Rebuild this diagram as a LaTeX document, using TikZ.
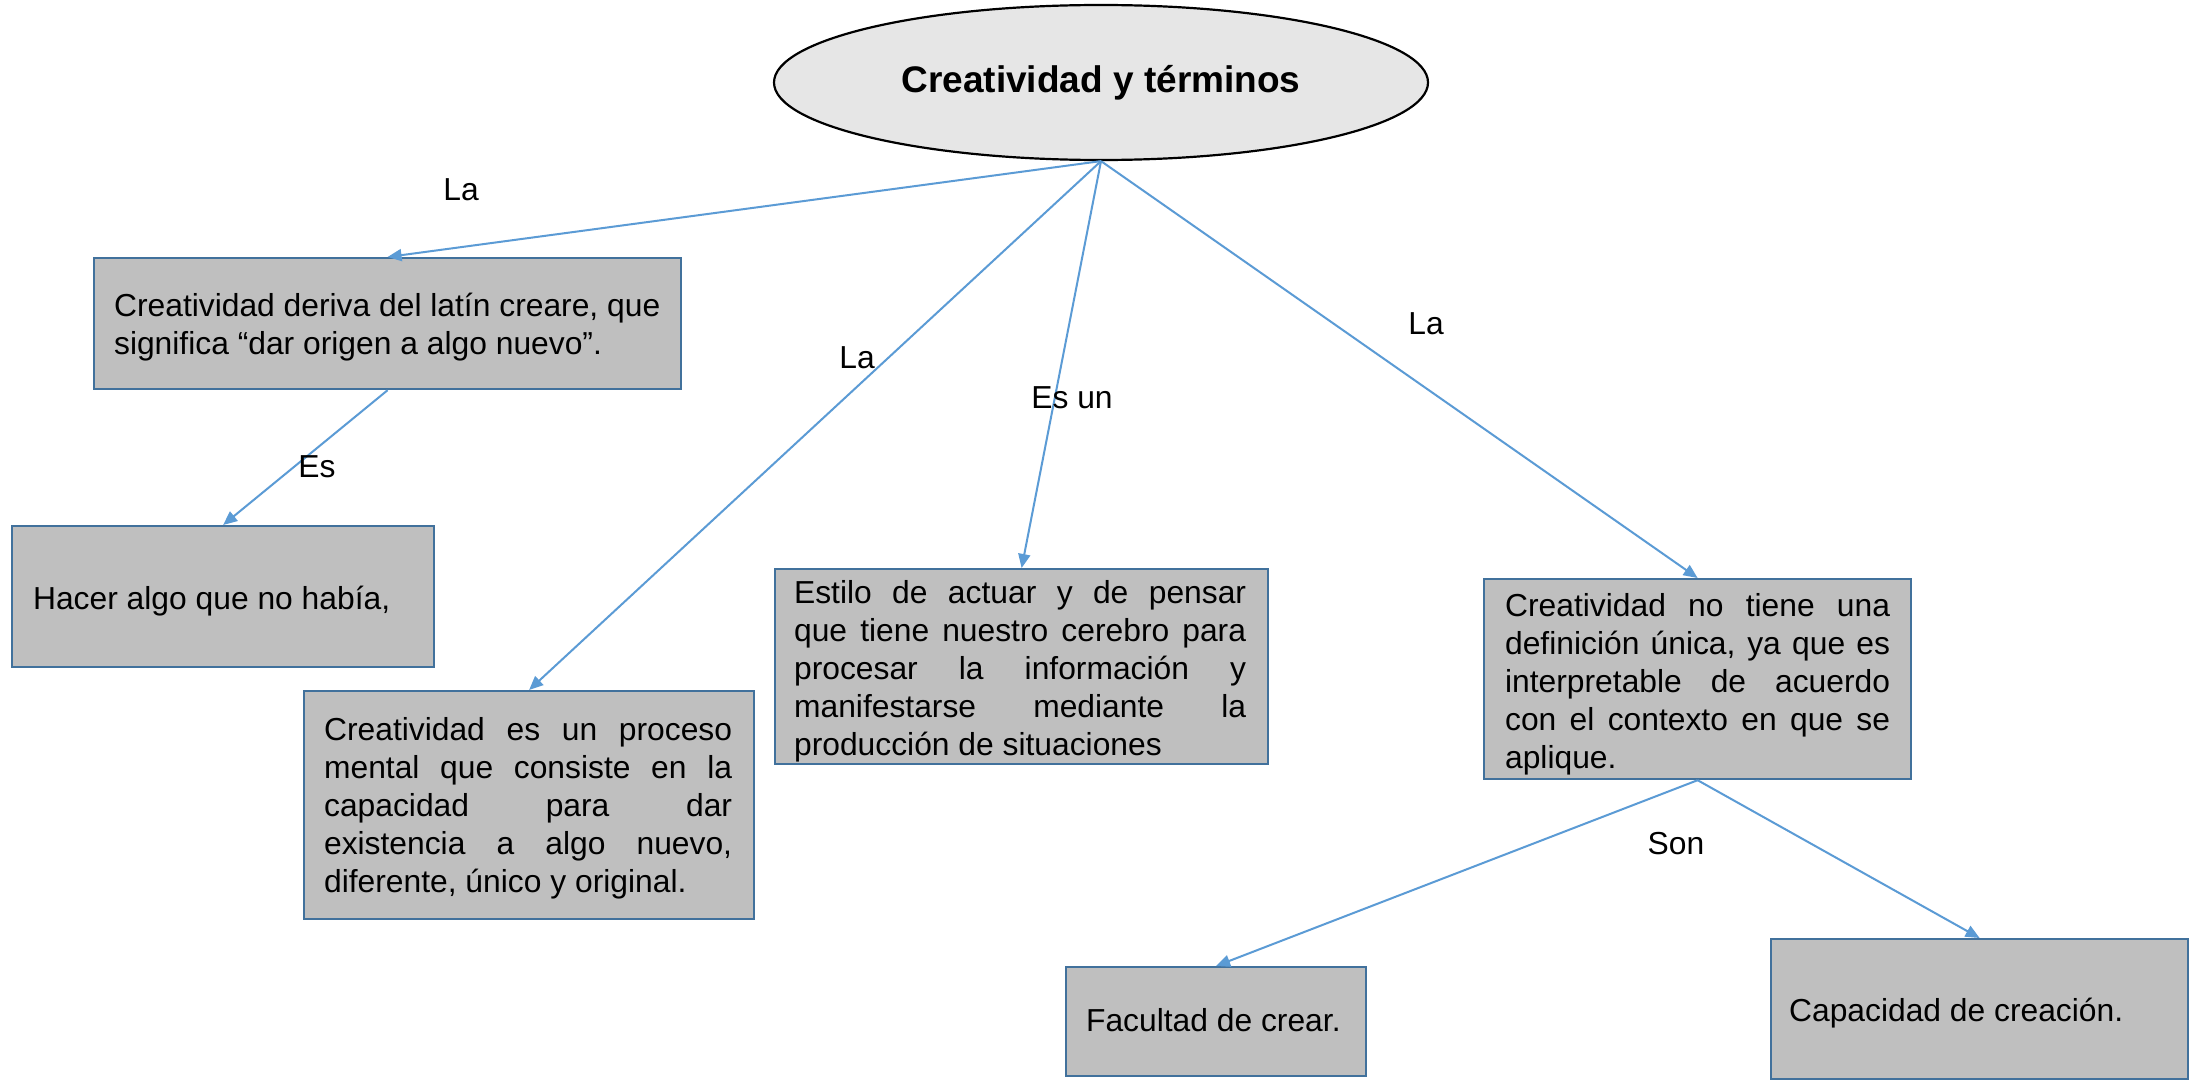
\documentclass[tikz,border=0pt]{standalone}
\usepackage{fontspec}
\setmainfont{Liberation Sans}
\usetikzlibrary{shapes.geometric,arrows.meta}
\definecolor{arrowblue}{HTML}{5B9BD5}
\definecolor{boxedge}{HTML}{41719C}
\definecolor{boxfill}{HTML}{BFBFBF}
\definecolor{ovalfill}{HTML}{E6E6E6}
% #1 width, #2 height, #3 left pad, #4 right pad, #5 top-to-first-baseline, #6 text
\newcommand\boxtxt[6]{\hspace*{#3pt}\parbox[c][#2pt][t]{\dimexpr #1pt-#3pt-#4pt\relax}{\fontsize{31.8}{38}\selectfont\vspace*{\dimexpr #5pt-26.6pt\relax}\strut#6}\hspace*{#4pt}}
\newcommand\jl[1]{\makebox[\linewidth][s]{#1}}
\tikzset{
  box/.style={draw=boxedge, fill=boxfill, line width=2.2pt, inner sep=0pt, anchor=north west},
  conn/.style={draw=arrowblue, line width=2pt, -{Triangle[length=14pt,width=12pt]}},
  lbl/.style={inner sep=0pt, font=\fontsize{31.8}{38}\selectfont}
}
\begin{document}
\begin{tikzpicture}[x=1pt,y=-1pt]
\useasboundingbox[fill=white] (0,0) rectangle (2192,1081);
\node[ellipse, draw=black, fill=ovalfill, line width=2.2pt, minimum width=654pt, minimum height=155pt, inner sep=0pt] (root) at (1101,82.5) {\raisebox{-2pt}{\fontsize{37}{44}\selectfont\bfseries Creatividad y términos}};

\node[box] (b1) at (93,257) {\boxtxt{587}{131}{20}{5}{58}{Creatividad deriva del latín creare, que\\significa “dar origen a algo nuevo”.}};
\node[box] (b2) at (11,525) {\boxtxt{422}{141}{21}{5}{83}{Hacer algo que no había,}};
\node[box] (b3) at (303,690) {\boxtxt{450}{228}{20}{22}{49}{\jl{Creatividad es un proceso}\\\jl{mental que consiste en la}\\\jl{capacidad para dar}\\\jl{existencia a algo nuevo,}\\diferente, único y original.}};
\node[box] (b4) at (774,568) {\boxtxt{493}{195}{19}{22}{34}{\jl{Estilo de actuar y de pensar}\\\jl{que tiene nuestro cerebro para}\\\jl{procesar la información y}\\\jl{manifestarse mediante la}\\producción de situaciones}};
\node[box] (b5) at (1483,578) {\boxtxt{427}{200}{21}{21}{37}{\jl{Creatividad no tiene una}\\\jl{definición única, ya que es}\\\jl{interpretable de acuerdo}\\\jl{con el contexto en que se}\\aplique.}};
\node[box] (b6) at (1065,966) {\boxtxt{300}{109}{20}{5}{64}{Facultad de crear.}};
\node[box] (b7) at (1770,938) {\boxtxt{417}{140}{18}{5}{82}{Capacidad de creación.}};

\draw[conn] (root.south) -- (b1.north);
\draw[conn] (b1.south) -- (b2.north);
\draw[conn] (root.south) -- (b3.north);
\draw[conn] (root.south) -- (b4.north);
\draw[conn] (root.south) -- (b5.north);
\draw[conn] (b5.south) -- (b6.north);
\draw[conn] (b5.south) -- (b7.north);

\node[lbl] (lLa1) at (461,190) {La};
\node[lbl] (lEs) at (317,467) {Es};
\node[lbl] (lLa2) at (857,358) {La};
\node[lbl] (lEsun) at (1072,398) {Es un};
\node[lbl] (lLa3) at (1426,324) {La};
\node[lbl] (lSon) at (1676,844) {Son};
\end{tikzpicture}
\end{document}
